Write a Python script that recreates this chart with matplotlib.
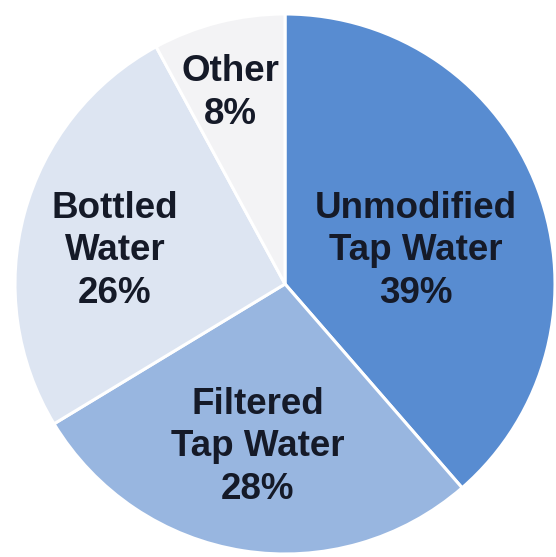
import matplotlib
matplotlib.use("Agg")
import matplotlib.pyplot as plt

# Share of drinking water sources
categories = ["Unmodified\nTap Water", "Filtered\nTap Water", "Bottled\nWater", "Other"]
shares = [39, 28, 26, 8]
colors = ["#588cd1", "#98b6e0", "#dde5f2", "#f3f3f5"]

# label anchor points (pixel coords, origin bottom-left)
label_pos = [(416, 557 - 251), (258, 557 - 447), (115, 557 - 251), (230, 557 - 93)]

W, H = 556, 557
fig = plt.figure(figsize=(W / 100, H / 100), dpi=100)
ax = fig.add_axes([0, 0, 1, 1])

ax.pie(shares, colors=colors, startangle=90, counterclock=False,
       center=(285, H - 284), radius=270,
       wedgeprops=dict(edgecolor="white", linewidth=2.2))

# pie() resets the limits, so fix the pixel frame afterwards
ax.set_xlim(0, W)
ax.set_ylim(0, H)
ax.set_aspect("equal")
ax.axis("off")

for name, val, (x, y) in zip(categories, shares, label_pos):
    ax.text(x, y, f"{name}\n{val}%", ha="center", va="center",
            fontsize=26.5, fontweight="bold", family="Liberation Sans",
            color="#151a28", linespacing=1.27)

fig.savefig("out.png", dpi=100)
